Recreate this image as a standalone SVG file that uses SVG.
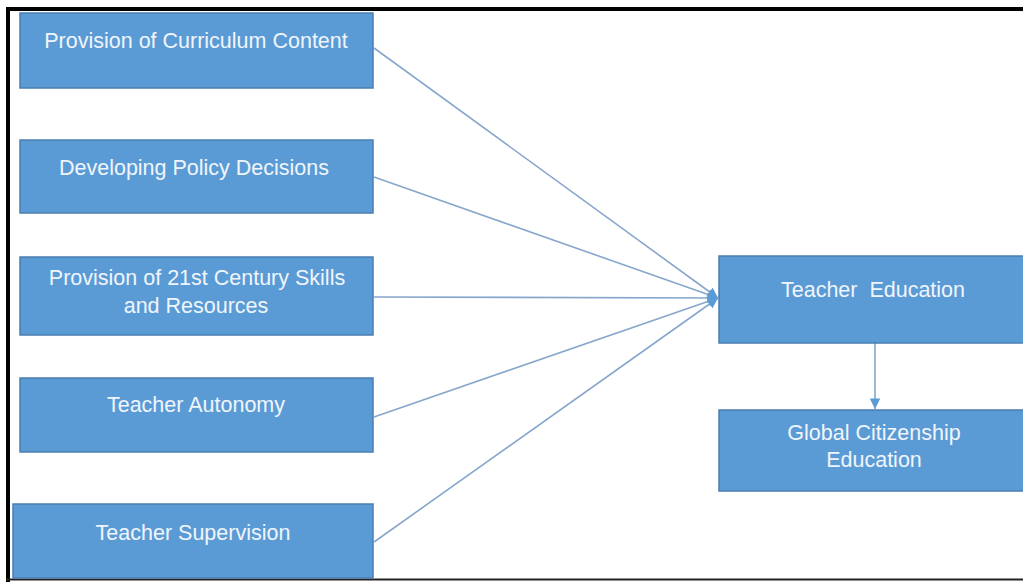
<svg xmlns="http://www.w3.org/2000/svg" width="1023" height="582" viewBox="0 0 1023 582">
  <defs>
    <style>
      .box { fill: #5B9BD5; stroke: #4A7EB0; stroke-width: 1.5; }
      .lbl { font-family: "Liberation Sans", Arial, sans-serif; font-size: 21.5px; fill: #F0F5FB; text-anchor: middle; }
      .conn { stroke: #86A6CC; stroke-width: 1.6; fill: none; }
    </style>
    <marker id="arr" viewBox="0 0 10 10" refX="10" refY="5" markerWidth="7" markerHeight="6.5" markerUnits="strokeWidth" orient="auto">
      <path d="M0,0 L10,5 L0,10 z" fill="#5B9BD5"/>
    </marker>
  </defs>
  <rect x="0" y="0" width="1023" height="582" fill="#FFFFFF"/>
  <g id="frame">
    <rect x="6" y="7" width="1017" height="4" fill="#000000"/>
    <rect x="6" y="7" width="4" height="575" fill="#000000"/>
    <rect x="6" y="578.5" width="1017" height="2" fill="#222222"/>
  </g>
  <g id="connectors">
    <line class="conn" x1="374" y1="48" x2="718" y2="298" marker-end="url(#arr)"/>
    <line class="conn" x1="374" y1="177" x2="718" y2="298" marker-end="url(#arr)"/>
    <line class="conn" x1="374" y1="297" x2="718" y2="298" marker-end="url(#arr)"/>
    <line class="conn" x1="374" y1="417" x2="718" y2="298" marker-end="url(#arr)"/>
    <line class="conn" x1="374" y1="542" x2="718" y2="298" marker-end="url(#arr)"/>
    <line class="conn" x1="875" y1="343" x2="875" y2="409" marker-end="url(#arr)"/>
  </g>
  <g id="node-curriculum">
    <rect class="box" x="20" y="13" width="353" height="75"/>
    <text class="lbl" x="196" y="48">Provision of Curriculum Content</text>
  </g>
  <g id="node-policy">
    <rect class="box" x="20" y="140" width="353" height="73"/>
    <text class="lbl" x="194" y="175">Developing Policy Decisions</text>
  </g>
  <g id="node-skills">
    <rect class="box" x="20" y="257" width="353" height="78"/>
    <text class="lbl" x="197" y="285">Provision of 21st Century Skills</text>
    <text class="lbl" x="196" y="313">and Resources</text>
  </g>
  <g id="node-autonomy">
    <rect class="box" x="20" y="378" width="353" height="74"/>
    <text class="lbl" x="196" y="412">Teacher Autonomy</text>
  </g>
  <g id="node-supervision">
    <rect class="box" x="13" y="504" width="360" height="74"/>
    <text class="lbl" x="193" y="540">Teacher Supervision</text>
  </g>
  <g id="node-teacher-education">
    <rect class="box" x="719" y="256" width="306" height="87"/>
    <text class="lbl" x="873" y="297" xml:space="preserve">Teacher  Education</text>
  </g>
  <g id="node-gce">
    <rect class="box" x="719" y="410" width="306" height="81"/>
    <text class="lbl" x="874" y="440">Global Citizenship</text>
    <text class="lbl" x="874" y="467">Education</text>
  </g>
</svg>
